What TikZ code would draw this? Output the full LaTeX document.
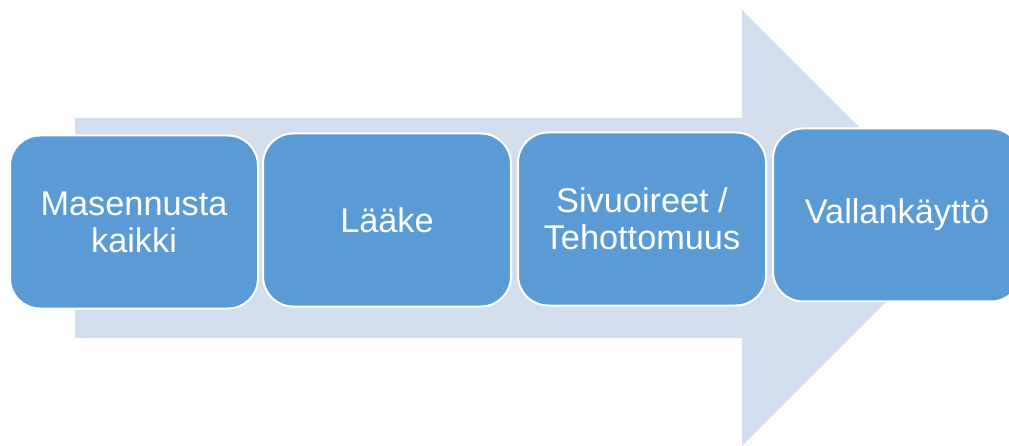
\documentclass[tikz,border=0pt]{standalone}
\usepackage{fontspec}
\setmainfont{Liberation Sans}
\definecolor{arrowbg}{RGB}{210,221,238}
\definecolor{boxblue}{RGB}{91,155,213}
\begin{document}
\begin{tikzpicture}[x=1pt,y=-1pt,
	stepbox/.style={draw=white,line width=2pt,fill=boxblue,rounded corners=30pt,
		minimum width=248pt,minimum height=173pt,inner sep=0pt,
		text=white,align=center,font=\fontsize{34.3}{37}\selectfont}]
	\useasboundingbox (0,0) rectangle (1009,446);
	\clip (0,0) rectangle (1009,446);
	\fill[arrowbg] (75,118) -- (742,118) -- (742,10) -- (960,228) -- (742,446) -- (742,338) -- (75,338) -- cycle;
	\node[stepbox] (masennus) at (134,222) {Masennusta\\kaikki};
	\node[stepbox] (laake) at (387,220) {Lääke};
	\node[stepbox] (sivuoireet) at (642,219) {Sivuoireet /\\Tehottomuus};
	\node[stepbox] (vallankaytto) at (897,215) {Vallankäyttö};
\end{tikzpicture}
\end{document}
